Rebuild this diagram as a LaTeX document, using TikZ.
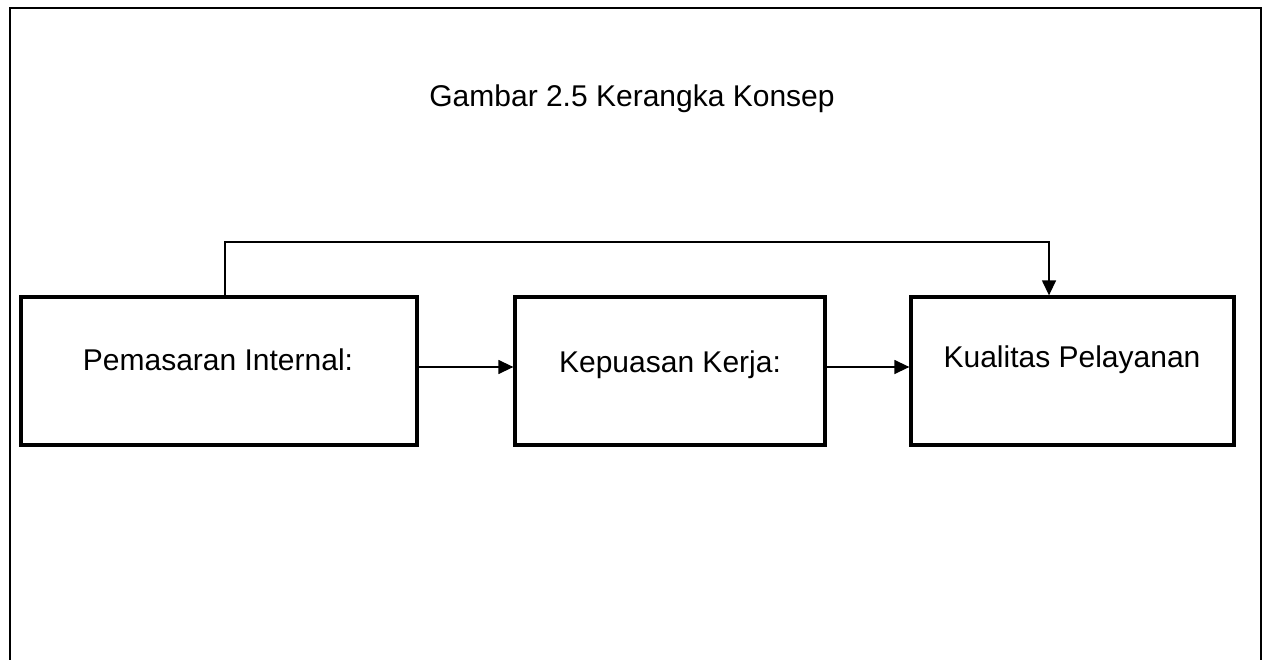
\documentclass[tikz,border=0pt]{standalone}
\usepackage{fontspec}
\setmainfont{Liberation Sans}
\usetikzlibrary{arrows.meta}
\begin{document}
\begin{tikzpicture}[x=1pt,y=-1pt,
  boxnode/.style={draw,line width=3.3pt,minimum height=148pt,inner sep=0pt},
  lbl/.style={font=\fontsize{30}{36}\selectfont,anchor=base,inner sep=0pt},
  arr/.style={line width=1.4pt,-{Triangle[length=15pt,width=14pt]}}]
\useasboundingbox (0,0) rectangle (1263,660);
\clip (0,0) rectangle (1263,660);
\draw[line width=2.6pt] (10,680) -- (10,8) -- (1261,8) -- (1261,680);
\node[lbl] (title) at (632,107) {Gambar 2.5 Kerangka Konsep};
\node[boxnode,minimum width=396pt] (b1) at (219,371) {};
\node[boxnode,minimum width=310pt] (b2) at (670,371) {};
\node[boxnode,minimum width=323pt] (b3) at (1072.5,371) {};
\node[lbl] (t1) at (218,370) {Pemasaran Internal:};
\node[lbl] (t2) at (670,372) {Kepuasan Kerja:};
\node[lbl] (t3) at (1072,367) {Kualitas Pelayanan};
\draw[arr] (b1.east |- 0,367) -- (b2.west |- 0,367);
\draw[arr] (b2.east |- 0,367) -- (b3.west |- 0,367);
\draw[arr] (b1.north -| 225,0) |- (1049,242) -- (b3.north -| 1049,0);
\end{tikzpicture}
\end{document}
